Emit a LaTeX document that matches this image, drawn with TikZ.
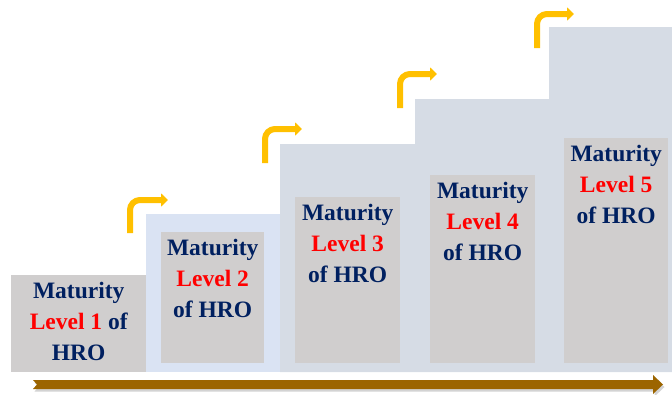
\documentclass[tikz,border=0pt]{standalone}
\usepackage{fontspec}
\setmainfont{Liberation Serif}
\usetikzlibrary{positioning,arrows.meta,shadows}
\definecolor{navy}{RGB}{0,32,96}
\definecolor{stepgray}{RGB}{214,220,229}
\definecolor{boxgray}{RGB}{208,206,206}
\definecolor{paleblue}{RGB}{218,227,243}
\definecolor{gold}{RGB}{255,192,0}
\definecolor{bronze}{RGB}{156,101,0}
\tikzset{
	levelbox/.style={fill=boxgray, draw=none, inner sep=0pt, anchor=north west},
	lvltext/.style={inner sep=0pt, align=center, text=navy,
		font=\fontsize{23.5}{31}\selectfont\bfseries},
	riser/.style={line width=6pt, draw=gold, rounded corners=10pt,
		-{Triangle[length=7pt,width=13pt]}},
}

\begin{document}
\begin{tikzpicture}[x=1pt, y=-1pt]
	\useasboundingbox (0,0) rectangle (672,394);

	% the stairs
	\fill[stepgray] (280,372) |- (415,144) |- (549,99) |- (672,27) -- (672,372) -- cycle;
	\node[levelbox, fill=paleblue, minimum width=134pt, minimum height=158pt] (frame2) at (146,214) {};

	\node[levelbox, minimum width=135pt, minimum height=97pt] (l1) at (11,275) {};
	\node[levelbox, minimum width=103pt, minimum height=131pt] (l2) at (161,232) {};
	\node[levelbox, minimum width=105pt, minimum height=166pt] (l3) at (295,197) {};
	\node[levelbox, minimum width=105pt, minimum height=188pt] (l4) at (430,175) {};
	\node[levelbox, minimum width=104pt, minimum height=225pt] (l5) at (564,138) {};

	\node[lvltext, below=6.5pt of l1.north] (t1) {Maturity\\{\color{red}Level 1} of\\HRO};
	\node[lvltext, below=6.5pt of l2.north] (t2) {Maturity\\{\color{red}Level 2}\\of HRO};
	\node[lvltext, below=6.5pt of l3.north] (t3) {Maturity\\{\color{red}Level 3}\\of HRO};
	\node[lvltext, below=6.5pt of l4.north] (t4) {Maturity\\{\color{red}Level 4}\\of HRO};
	\node[lvltext, below=6.5pt of l5.north] (t5) {Maturity\\{\color{red}Level 5}\\of HRO};

	% yellow turn arrows
	\foreach \sx/\sy/\hy/\tx [count=\i] in {130/233/200/168, 265/163/129/302, 400/108/74/437, 537/48/14/574} {
		\coordinate (rise\i) at (\sx,\sy);
		\coordinate (turn\i) at (\tx,\hy);
		\draw[riser] (rise\i) |- (turn\i);
	}

	% bottom arrow
	\coordinate (ar0) at (33,384.5);
	\coordinate (ar1) at (663,384.5);
	\fill[bronze, drop shadow={shadow xshift=1.5pt, shadow yshift=-2.5pt, opacity=.35}]
		(ar0) ++(0,-4.5) -- ++(620,0) -- ++(0,-5) -- (ar1) -- ++(-10,9.5) -- ++(0,-5)
		-- ++(-620,0) -- ++(4,-4.5) -- cycle;
\end{tikzpicture}
\end{document}
